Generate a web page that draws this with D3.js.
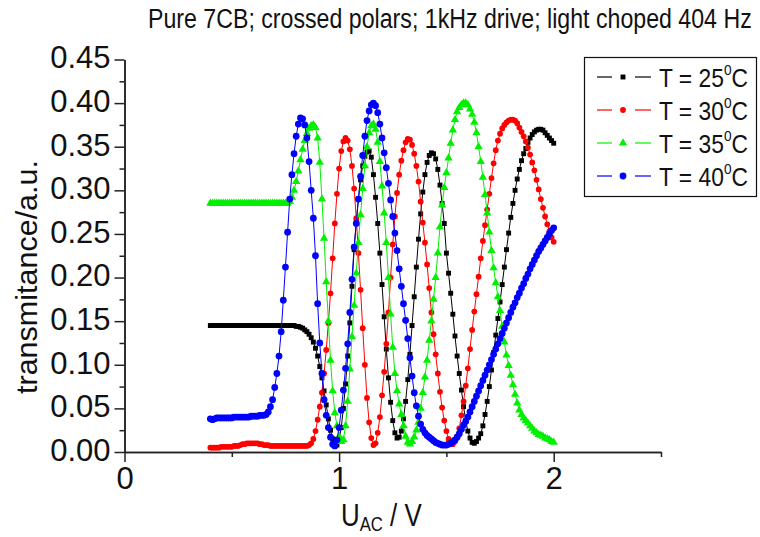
<!DOCTYPE html>
<html>
<head>
<meta charset="utf-8">
<script src="https://cdn.jsdelivr.net/npm/d3@7"></script>
<style>
  html, body { margin: 0; padding: 0; background: #fff; }
  svg { display: block; font-family: "Liberation Sans", Arial, sans-serif; }
</style>
</head>
<body>
<svg id="chart" width="760" height="537"></svg>
<script>
// Applied AC voltage (V), one reading every 10 mV
const voltage = [
  0.40,0.41,0.42,0.43,0.44,0.45,0.46,0.47,0.48,0.49,
  0.50,0.51,0.52,0.53,0.54,0.55,0.56,0.57,0.58,0.59,
  0.60,0.61,0.62,0.63,0.64,0.65,0.66,0.67,0.68,0.69,
  0.70,0.71,0.72,0.73,0.74,0.75,0.76,0.77,0.78,0.79,
  0.80,0.81,0.82,0.83,0.84,0.85,0.86,0.87,0.88,0.89,
  0.90,0.91,0.92,0.93,0.94,0.95,0.96,0.97,0.98,0.99,
  1.00,1.01,1.02,1.03,1.04,1.05,1.06,1.07,1.08,1.09,
  1.10,1.11,1.12,1.13,1.14,1.15,1.16,1.17,1.18,1.19,
  1.20,1.21,1.22,1.23,1.24,1.25,1.26,1.27,1.28,1.29,
  1.30,1.31,1.32,1.33,1.34,1.35,1.36,1.37,1.38,1.39,
  1.40,1.41,1.42,1.43,1.44,1.45,1.46,1.47,1.48,1.49,
  1.50,1.51,1.52,1.53,1.54,1.55,1.56,1.57,1.58,1.59,
  1.60,1.61,1.62,1.63,1.64,1.65,1.66,1.67,1.68,1.69,
  1.70,1.71,1.72,1.73,1.74,1.75,1.76,1.77,1.78,1.79,
  1.80,1.81,1.82,1.83,1.84,1.85,1.86,1.87,1.88,1.89,
  1.90,1.91,1.92,1.93,1.94,1.95,1.96,1.97,1.98,1.99,
  2.00
];

// Transmittance (a.u.) at each voltage, one array per temperature
const t25 = [
  0.145,0.145,0.145,0.145,0.145,0.145,0.145,0.145,0.145,0.145,
  0.145,0.145,0.145,0.145,0.145,0.145,0.145,0.145,0.145,0.145,
  0.145,0.145,0.145,0.145,0.145,0.145,0.145,0.145,0.145,0.145,
  0.145,0.145,0.145,0.145,0.145,0.145,0.145,0.145,0.145,0.145,
  0.144,0.144,0.143,0.142,0.140,0.138,0.135,0.131,0.126,0.119,
  0.110,0.098,0.085,0.070,0.054,0.038,0.025,0.015,0.009,0.008,
  0.014,0.028,0.050,0.078,0.110,0.148,0.190,0.232,0.265,0.290,
  0.312,0.328,0.339,0.344,0.345,0.338,0.318,0.292,0.262,0.228,
  0.192,0.155,0.118,0.085,0.057,0.036,0.022,0.016,0.017,0.024,
  0.038,0.058,0.083,0.112,0.145,0.178,0.212,0.244,0.273,0.298,
  0.318,0.332,0.340,0.343,0.342,0.336,0.324,0.306,0.285,0.262,
  0.228,0.205,0.182,0.158,0.133,0.110,0.090,0.071,0.052,0.036,
  0.024,0.016,0.011,0.010,0.012,0.016,0.021,0.030,0.043,0.058,
  0.075,0.094,0.114,0.134,0.153,0.172,0.192,0.212,0.232,0.251,
  0.269,0.285,0.300,0.313,0.324,0.334,0.342,0.348,0.355,0.360,
  0.364,0.367,0.369,0.370,0.370,0.369,0.366,0.363,0.360,0.357,
  0.354
];
const t30 = [
  0.005,0.005,0.005,0.005,0.005,0.006,0.006,0.006,0.006,0.006,
  0.006,0.007,0.007,0.007,0.008,0.009,0.009,0.010,0.010,0.010,
  0.010,0.010,0.010,0.009,0.009,0.008,0.008,0.008,0.007,0.007,
  0.007,0.007,0.007,0.007,0.007,0.007,0.007,0.007,0.007,0.007,
  0.007,0.007,0.007,0.007,0.007,0.007,0.008,0.010,0.015,0.024,
  0.037,0.052,0.068,0.090,0.117,0.148,0.182,0.222,0.262,0.296,
  0.325,0.345,0.356,0.360,0.357,0.347,0.328,0.302,0.268,0.228,
  0.186,0.142,0.100,0.062,0.034,0.016,0.008,0.010,0.022,0.040,
  0.065,0.092,0.124,0.160,0.200,0.238,0.270,0.297,0.318,0.334,
  0.346,0.355,0.359,0.358,0.352,0.342,0.328,0.310,0.287,0.263,
  0.240,0.215,0.188,0.160,0.135,0.112,0.090,0.069,0.051,0.036,
  0.024,0.015,0.010,0.009,0.012,0.018,0.027,0.042,0.058,0.076,
  0.096,0.118,0.140,0.161,0.181,0.201,0.222,0.242,0.260,0.278,
  0.296,0.314,0.331,0.346,0.357,0.365,0.371,0.375,0.378,0.380,
  0.381,0.381,0.380,0.377,0.372,0.367,0.362,0.356,0.349,0.341,
  0.332,0.323,0.312,0.301,0.290,0.280,0.270,0.261,0.253,0.246,
  0.241
];
const t35 = [
  0.285,0.285,0.285,0.285,0.285,0.285,0.285,0.285,0.285,0.285,
  0.285,0.285,0.285,0.285,0.285,0.285,0.285,0.285,0.285,0.285,
  0.285,0.285,0.285,0.285,0.285,0.285,0.285,0.285,0.285,0.285,
  0.285,0.285,0.285,0.285,0.285,0.285,0.285,0.287,0.292,0.300,
  0.310,0.322,0.335,0.347,0.357,0.365,0.371,0.374,0.375,0.372,
  0.360,0.332,0.290,0.245,0.195,0.150,0.105,0.070,0.045,0.030,
  0.018,0.012,0.014,0.030,0.058,0.095,0.132,0.168,0.205,0.240,
  0.272,0.302,0.328,0.350,0.366,0.374,0.376,0.370,0.355,0.333,
  0.305,0.274,0.240,0.200,0.158,0.120,0.090,0.070,0.055,0.043,
  0.030,0.018,0.011,0.009,0.012,0.017,0.025,0.034,0.050,0.068,
  0.086,0.105,0.128,0.150,0.175,0.200,0.228,0.258,0.283,0.303,
  0.320,0.337,0.354,0.369,0.381,0.390,0.395,0.398,0.400,0.400,
  0.398,0.393,0.387,0.378,0.366,0.350,0.333,0.315,0.295,0.274,
  0.252,0.231,0.211,0.194,0.178,0.162,0.144,0.126,0.111,0.099,
  0.088,0.077,0.066,0.056,0.048,0.043,0.039,0.036,0.033,0.030,
  0.027,0.024,0.022,0.020,0.019,0.018,0.016,0.015,0.014,0.012,
  0.011
];
const t40 = [
  0.038,0.037,0.038,0.039,0.039,0.039,0.039,0.039,0.039,0.039,
  0.039,0.040,0.040,0.040,0.040,0.040,0.040,0.040,0.040,0.041,
  0.041,0.041,0.041,0.042,0.042,0.042,0.043,0.046,0.052,0.060,
  0.074,0.090,0.110,0.138,0.174,0.212,0.252,0.290,0.318,0.342,
  0.362,0.376,0.383,0.382,0.375,0.360,0.333,0.300,0.268,0.225,
  0.170,0.125,0.090,0.060,0.042,0.028,0.017,0.009,0.007,0.014,
  0.028,0.048,0.071,0.096,0.124,0.160,0.198,0.235,0.262,0.290,
  0.316,0.340,0.362,0.380,0.391,0.398,0.400,0.397,0.389,0.376,
  0.360,0.343,0.326,0.308,0.289,0.270,0.251,0.231,0.210,0.190,
  0.170,0.151,0.130,0.108,0.087,0.068,0.053,0.041,0.032,0.026,
  0.022,0.019,0.017,0.015,0.013,0.011,0.010,0.009,0.008,0.008,
  0.008,0.009,0.010,0.012,0.014,0.017,0.021,0.026,0.031,0.035,
  0.040,0.046,0.052,0.058,0.064,0.070,0.076,0.082,0.088,0.094,
  0.100,0.106,0.112,0.118,0.124,0.130,0.136,0.142,0.148,0.154,
  0.160,0.166,0.171,0.177,0.182,0.188,0.193,0.199,0.204,0.210,
  0.215,0.220,0.225,0.230,0.234,0.238,0.242,0.246,0.250,0.254,
  0.257
];

const temperatures = [25, 30, 35, 40];
const yTickValues = [0.00, 0.05, 0.10, 0.15, 0.20, 0.25, 0.30, 0.35, 0.40, 0.45];
const yMinorValues = [0.025, 0.075, 0.125, 0.175, 0.225, 0.275, 0.325, 0.375, 0.425];
const xTickValues = [0, 1, 2];
const xMinorValues = [0.5, 1.5, 2.5];

const FONT = '"Liberation Sans", Arial, sans-serif';
const svg = d3.select("#chart");

const x = d3.scaleLinear().domain([0, 2.5]).range([124.5, 661]);
const y = d3.scaleLinear().domain([0, 0.45]).range([452, 59.5]);

// Series styling: colour and marker shape per temperature
const styles = [
  { color: "#000000", symbol: d3.symbolSquare,   size: 24 },
  { color: "#ff0000", symbol: d3.symbolCircle,   size: 26 },
  { color: "#00f000", symbol: d3.symbolTriangle, size: 30 },
  { color: "#0000ff", symbol: d3.symbolCircle,   size: 36 }
];
const seriesValues = [t25, t30, t35, t40];

// Horizontally fit a text group to a given width
function fitGroup(g, tx, ty, width, extra) {
  const w = g.node().getBBox().width;
  const sx = width / w;
  g.attr("transform", `translate(${tx},${ty}) ${extra || ""} scale(${sx},1)`);
}

// Axes
const yAxis = d3.axisLeft(y).tickValues(yTickValues).tickSize(10).tickSizeOuter(0)
  .tickPadding(4).tickFormat(d3.format(".2f"));
const yMinor = d3.axisLeft(y).tickValues(yMinorValues).tickSize(5).tickSizeOuter(0).tickFormat("");
const xAxis = d3.axisBottom(x).tickValues(xTickValues).tickSize(10).tickSizeOuter(0)
  .tickPadding(5).tickFormat(d3.format("d"));
const xMinor = d3.axisBottom(x).tickValues(xMinorValues).tickSize(5).tickSizeOuter(0).tickFormat("");

function styleAxis(g) {
  g.attr("font-family", FONT).attr("font-size", 31);
  g.selectAll("path, line").attr("stroke", "#222").attr("stroke-width", 1.5);
  g.selectAll("text").attr("fill", "#111");
}

svg.append("g").attr("transform", "translate(124.5,0)").call(yMinor).call(styleAxis);
svg.append("g").attr("transform", "translate(124.5,0)").call(yAxis).call(styleAxis)
  .selectAll("text").attr("dy", "0.27em");
svg.append("g").attr("transform", "translate(0,452)").call(xMinor).call(styleAxis);
svg.append("g").attr("transform", "translate(0,452)").call(xAxis).call(styleAxis);

// Data: line plus markers for each temperature
const line = d3.line().x((d, i) => x(voltage[i])).y(d => y(d));
seriesValues.forEach((vals, k) => {
  const st = styles[k];
  const g = svg.append("g");
  g.append("path").datum(vals).attr("d", line)
    .attr("fill", "none").attr("stroke", st.color).attr("stroke-width", 1);
  const sym = d3.symbol().type(st.symbol).size(st.size);
  g.selectAll("path.m").data(vals).join("path").attr("class", "m")
    .attr("d", sym)
    .attr("transform", (d, i) => `translate(${x(voltage[i])},${y(d)})`)
    .attr("fill", st.color);
});

// Title
const title = svg.append("g");
title.append("text").attr("x", 0).attr("y", 0)
  .attr("font-family", FONT).attr("font-size", 28).attr("fill", "#111")
  .text("Pure 7CB; crossed polars; 1kHz drive; light choped 404 Hz");
fitGroup(title, 148, 28, 604);

// Axis titles
const yTitle = svg.append("g");
yTitle.append("text").attr("text-anchor", "middle")
  .attr("font-family", FONT).attr("font-size", 30).attr("fill", "#111")
  .text("transmitance/a.u.");
fitGroup(yTitle, 37, 277, 234, "rotate(-90)");

const xTitle = svg.append("g");
const xt = xTitle.append("text").attr("font-family", FONT).attr("font-size", 31).attr("fill", "#111");
xt.append("tspan").text("U");
xt.append("tspan").attr("font-size", 20).attr("dy", 5).text("AC");
xt.append("tspan").attr("dy", -5).text(" / V");
fitGroup(xTitle, 341, 526, 81);

// Legend
const legend = svg.append("g");
legend.append("rect").attr("x", 584.5).attr("y", 57.5).attr("width", 172).attr("height", 139)
  .attr("fill", "#fff").attr("stroke", "#111").attr("stroke-width", 1.2);
temperatures.forEach((t, k) => {
  const st = styles[k];
  const cy = 77 + k * 33;
  const row = legend.append("g");
  row.append("line").attr("x1", 597).attr("x2", 612).attr("y1", cy).attr("y2", cy)
    .attr("stroke", st.color).attr("stroke-width", 1.2);
  row.append("line").attr("x1", 635).attr("x2", 651).attr("y1", cy).attr("y2", cy)
    .attr("stroke", st.color).attr("stroke-width", 1.2);
  row.append("path").attr("d", d3.symbol().type(st.symbol).size(st.size)())
    .attr("transform", `translate(623,${cy})`).attr("fill", st.color);
  const lab = legend.append("g");
  const txt = lab.append("text").attr("font-family", FONT).attr("font-size", 25).attr("fill", "#111");
  txt.append("tspan").text(`T = ${t}`);
  txt.append("tspan").attr("font-size", 15).attr("dy", -12).text("0");
  txt.append("tspan").attr("dy", 12).text("C");
  fitGroup(lab, 659, cy + 10, 89);
});
</script>
</body>
</html>
